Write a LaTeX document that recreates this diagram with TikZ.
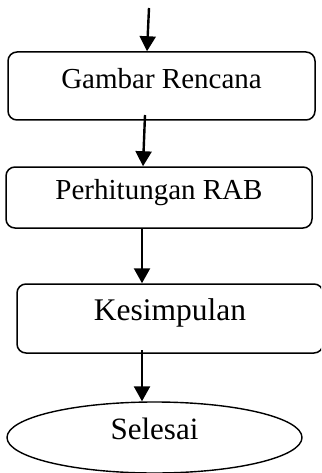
\documentclass[tikz,border=0pt]{standalone}
\usepackage{fontspec}
\setmainfont{Liberation Serif}
\usetikzlibrary{arrows.meta,shapes.geometric}
\begin{document}
\begin{tikzpicture}[x=1pt,y=-1pt,
  box/.style={draw,line width=1.5pt,rounded corners=9pt,inner sep=0pt,
    text height=0.7em,text depth=0.25em},
  oval/.style={draw,ellipse,line width=1.4pt,inner sep=0pt,
    text height=0.7em,text depth=0.25em},
  arr/.style={line width=2.4pt,-{Triangle[width=16pt,length=15pt]}}]
\useasboundingbox (0,0) rectangle (321,473);
\clip (0,0) rectangle (321,473);
\node[box,minimum width=307pt,minimum height=68pt,font=\fontsize{29}{34}\selectfont] (b1) at (161.5,86) {Gambar Rencana};
\node[box,minimum width=306pt,minimum height=61pt,font=\fontsize{29}{34}\selectfont] (b2) at (159,197.5) {Perhitungan RAB};
\node[box,minimum width=306pt,minimum height=69pt,font=\fontsize{31.5}{36}\selectfont] (b3) at (170,318.5) {Kesimpulan};
\node[oval,minimum width=295pt,minimum height=71pt,font=\fontsize{31}{36}\selectfont] (e) at (154.5,437.5) {Selesai};
\coordinate (s0) at (149,8);
\coordinate (t0) at (147,52);
\coordinate (s1) at (145,115);
\coordinate (t1) at (143,167);
\coordinate (s2) at (142,228);
\coordinate (s3) at (142,350);
\draw[arr] (s0) -- (t0 |- b1.north);
\draw[arr] (s1) -- (t1 |- b2.north);
\draw[arr] (s2 |- b2.south) -- (s2 |- b3.north);
\draw[arr] (s3) -- (s3 |- e.north);
\end{tikzpicture}
\end{document}
